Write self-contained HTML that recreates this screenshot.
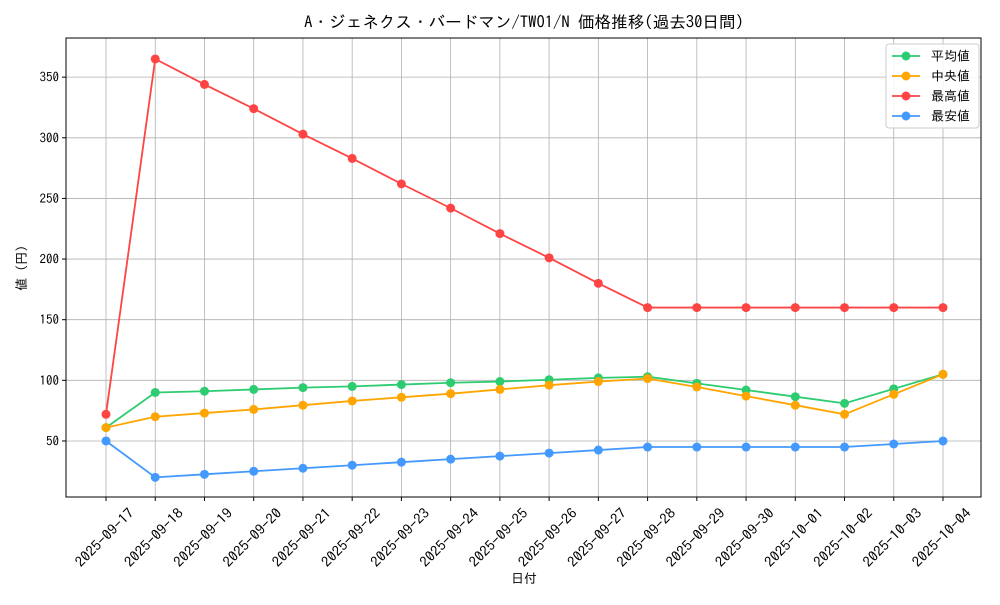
<!DOCTYPE html>
<html><head><meta charset="utf-8"><style>
body{margin:0;background:#fff;}
svg text{font-family:"IPAGothic","Noto Sans CJK JP",sans-serif;fill:#000;}
</style></head><body>
<svg id="chart" width="1000" height="600" xmlns="http://www.w3.org/2000/svg">
<rect width="1000" height="600" fill="#fff"/>
<text x="524" y="28" font-size="16.6" text-anchor="middle">A・ジェネクス・バードマン/TWO1/N 価格推移(過去30日間)</text>
<g id="grid"></g>
<g id="axes"></g>
<g id="series"></g>
<rect x="66" y="38" width="915" height="459" fill="none" stroke="#000" stroke-width="1"/>
<text x="524" y="583" font-size="13" text-anchor="middle">日付</text>
<text transform="translate(26,268) rotate(-90)" font-size="13" text-anchor="middle">値 (円)</text>
<g id="legend"></g>
</svg>
<script>
const dates=["2025-09-17","2025-09-18","2025-09-19","2025-09-20","2025-09-21","2025-09-22","2025-09-23","2025-09-24","2025-09-25","2025-09-26","2025-09-27","2025-09-28","2025-09-29","2025-09-30","2025-10-01","2025-10-02","2025-10-03","2025-10-04"];
const avgVals=[61,90,91,92.5,94,95,96.5,98,99,100.5,102,103,97.5,92,86.5,81,93,105];
const medVals=[61,70,73,76,79.5,83,86,89,92.5,96,99,101.5,94.5,87,79.5,72,88.5,105];
const maxVals=[72,365,344,324,303,283,262,242,221,201,180,160,160,160,160,160,160,160];
const minVals=[50,20,22.5,25,27.5,30,32.5,35,37.5,40,42.5,45,45,45,45,45,47.5,50];
const yTicks=[50,100,150,200,250,300,350];
const seriesNames=["平均値","中央値","最高値","最安値"];
const seriesColors=["#2ecc71","#ffa500","#ff4444","#4499ff"];
const NS="http://www.w3.org/2000/svg";
const xs=i=>106+i*(943-106)/(dates.length-1);
const ys=v=>501.6-v*1.2127;
function mk(t,a,p){const e=document.createElementNS(NS,t);for(const k in a)e.setAttribute(k,a[k]);p.appendChild(e);return e;}
const grid=document.getElementById('grid'),axes=document.getElementById('axes'),ser=document.getElementById('series'),leg=document.getElementById('legend');
dates.forEach((d,i)=>{
 const x=xs(i);
 const g=mk('line',{x1:x,x2:x,y1:38,y2:497,stroke:'#b0b0b0','stroke-width':0.8},grid);
 
 
 const tk=mk('line',{x1:x,x2:x,y1:497,y2:501,stroke:'#000'},axes);
 
 
 const cx=x-1.5, cy=537.5;
 const t=mk('text',{x:cx,y:cy+5,'font-size':14,'text-anchor':'middle',textLength:76,lengthAdjust:'spacingAndGlyphs',transform:`rotate(-45 ${cx} ${cy})`},axes);
 t.textContent=d;
 
 
});
yTicks.forEach(v=>{
 const y=ys(v);
 const g=mk('line',{x1:66,x2:981,y1:y,y2:y,stroke:'#b0b0b0','stroke-width':0.8},grid);
 
 
 const tk=mk('line',{x1:62,x2:66,y1:y,y2:y,stroke:'#000'},axes);
 
 
 const t=mk('text',{x:59,y:y+4.5,'font-size':13,'text-anchor':'end'},axes);
 t.textContent=v;
 
 
});
[avgVals,medVals,maxVals,minVals].forEach((vals,si)=>{
 const c=seriesColors[si];
 const pl=mk('polyline',{points:vals.map((v,i)=>xs(i)+','+ys(v)).join(' '),fill:'none',stroke:c,'stroke-width':1.8},ser);
 
 
 vals.forEach((v,i)=>{
  const p=mk('circle',{cx:xs(i),cy:ys(v),r:4.5,fill:c},ser);
  
  
 });
});
mk('rect',{x:886,y:44,width:93,height:84,rx:3,fill:'#fff','fill-opacity':0.85,stroke:'#ccc'},leg);
seriesNames.forEach((n,i)=>{
 const y=56+i*20;
 const l=mk('line',{x1:892,x2:920,y1:y,y2:y,stroke:seriesColors[i],'stroke-width':1.8},leg);
 
 
 mk('circle',{cx:906,cy:y,r:4.5,fill:seriesColors[i]},leg);
 const t=mk('text',{x:931,y:y+4.5,'font-size':13},leg);
 t.textContent=n;
 
 
});
</script>
</body></html>
